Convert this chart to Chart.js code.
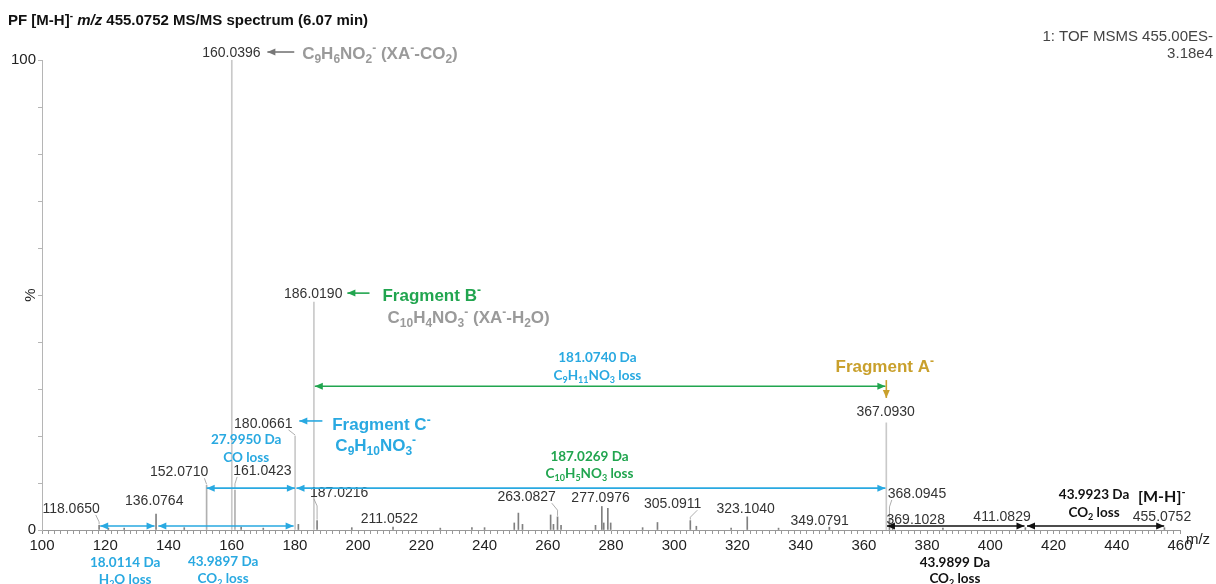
<!DOCTYPE html>
<html>
<head>
<meta charset="utf-8">
<script src="https://cdn.jsdelivr.net/npm/chart.js@4.4.1/dist/chart.umd.min.js"></script>
<style>
  html, body { margin: 0; padding: 0; background: #fff; }
  #wrap { width: 1216px; height: 584px; }
</style>
</head>
<body>
<div id="wrap"><canvas id="spec" width="1216" height="584"></canvas></div>
<script>
// peaks of the spectrum (m/z, relative intensity %)
const peakMz = [118.0650, 121.0, 126.0, 136.0764, 145.0, 152.0710, 160.0396, 161.0423, 163.0,
  170.0, 180.0661, 181.1, 186.0190, 187.0216, 198.0, 211.0522, 226.0, 236.0, 240.0,
  249.4, 250.7, 252.0, 260.9, 261.8, 263.0827, 264.2, 275.1, 277.0976, 277.7, 279.0, 279.9,
  290.0, 294.7, 305.0911, 307.0, 318.0, 323.1040, 333.0, 349.0791, 367.0930, 368.0945,
  369.1028, 385.0, 411.0829, 455.0752]
const peakInt = [1.0, 0.4, 0.4, 3.4, 0.5, 9.5, 100, 8.5, 0.6,
  0.4, 20, 1.2, 48.5, 2.0, 0.5, 0.6, 0.4, 0.5, 0.5,
  1.5, 3.6, 1.2, 3.2, 1.2, 2.8, 1.0, 1.0, 5.0, 1.5, 4.6, 1.5,
  0.5, 1.6, 2.0, 0.8, 0.4, 2.8, 0.4, 0.6, 22.8, 2.5,
  1.0, 0.4, 0.5, 0.5]
const labelledPeaks = ['118.0650', '136.0764', '152.0710', '160.0396', '161.0423', '180.0661',
  '186.0190', '187.0216', '211.0522', '263.0827', '277.0976', '305.0911', '323.1040',
  '349.0791', '367.0930', '368.0945', '369.1028', '411.0829', '455.0752']
const yTickLabels = [0, 100]

const SANS = '"Liberation Sans", Arial, sans-serif'
const CAL = 'Lato, "Open Sans", sans-serif'
const BLUE = '#29a9e1', GREEN = '#21a54f', GOLD = '#c9a02c', GREYF = '#9a9a9a', BLACK = '#111'

// where each peak label sits (m/z, %), and whether it needs a leader line
const labelAt = {
  '118.0650': [109.2, 4.7, 1], '136.0764': [135.5, 6.4, 0], '152.0710': [143.4, 12.5, 1],
  '160.0396': [159.9, 101.7, 0], '161.0423': [169.7, 12.8, 1], '180.0661': [170.0, 22.8, 1],
  '186.0190': [185.8, 50.4, 0], '187.0216': [194.0, 8.1, 1], '211.0522': [209.9, 2.6, 0],
  '263.0827': [253.3, 7.2, 1], '277.0976': [276.7, 7.0, 0], '305.0911': [299.5, 5.7, 1],
  '323.1040': [322.6, 4.7, 0], '349.0791': [346.0, 2.1, 0], '367.0930': [366.9, 25.3, 0],
  '368.0945': [376.8, 7.9, 1], '369.1028': [376.4, 2.3, 0], '411.0829': [403.7, 3.0, 0],
  '455.0752': [454.3, 3.0, 0]
}

// free annotation texts: text, m/z, %, colour, size, align, font
const notes = [
  ['C_{9}H_{6}NO_{2}^{-} (XA^{-}-CO_{2})', 182.3, 101.5, GREYF, 17, 'left', SANS],
  ['Fragment B^{-}', 207.7, 50.0, GREEN, 17, 'left', SANS],
  ['C_{10}H_{4}NO_{3}^{-} (XA^{-}-H_{2}O)', 209.3, 45.3, GREYF, 17, 'left', SANS],
  ['181.0740 Da', 275.7, 36.8, BLUE, 13.5, 'center', CAL],
  ['C_{9}H_{11}NO_{3} loss', 275.7, 33.0, BLUE, 13.5, 'center', CAL],
  ['Fragment A^{-}', 366.6, 34.9, GOLD, 17, 'center', SANS],
  ['Fragment C^{-}', 191.8, 22.5, BLUE, 17, 'left', SANS],
  ['C_{9}H_{10}NO_{3}^{-}', 192.8, 18.1, BLUE, 17, 'left', SANS],
  ['27.9950 Da', 164.6, 19.4, BLUE, 13.5, 'center', CAL],
  ['CO loss', 164.6, 15.5, BLUE, 13.5, 'center', CAL],
  ['187.0269 Da', 273.2, 15.7, GREEN, 13.5, 'center', CAL],
  ['C_{10}H_{5}NO_{3} loss', 273.2, 12.1, GREEN, 13.5, 'center', CAL],
  ['18.0114 Da', 126.3, -6.8, BLUE, 13.5, 'center', CAL],
  ['H_{2}O loss', 126.3, -10.4, BLUE, 13.5, 'center', CAL],
  ['43.9897 Da', 157.3, -6.6, BLUE, 13.5, 'center', CAL],
  ['CO_{2} loss', 157.3, -10.2, BLUE, 13.5, 'center', CAL],
  ['43.9923 Da', 432.8, 7.7, BLACK, 13.5, 'center', CAL],
  ['CO_{2} loss', 432.8, 3.8, BLACK, 13.5, 'center', CAL],
  ['[M-H]^{-}', 446.7, 7.2, BLACK, 16, 'left', CAL],
  ['43.9899 Da', 388.8, -6.8, BLACK, 13.5, 'center', CAL],
  ['CO_{2} loss', 388.8, -10.2, BLACK, 13.5, 'center', CAL]
]

// arrows: from (m/z, %) to (m/z, %), colour, double headed
const arrows = [
  [179.8, 101.7, 171.3, 101.7, '#777', false],
  [203.6, 50.4, 196.6, 50.4, GREEN, false],
  [188.7, 23.2, 181.4, 23.2, BLUE, false],
  [367.093, 31.9, 367.093, 28.1, GOLD, false],
  [186.3, 30.6, 366.8, 30.6, GREEN, true],
  [152.1, 8.9, 180.0, 8.9, BLUE, true],
  [180.5, 8.9, 366.8, 8.9, BLUE, true],
  [118.4, 0.85, 135.6, 0.85, BLUE, true],
  [136.8, 0.85, 179.6, 0.85, BLUE, true],
  [367.3, 0.85, 410.8, 0.85, BLACK, true],
  [411.6, 0.85, 455.0, 0.85, BLACK, true]
]

function rich(ctx, str, x, y, size, color, align, family, weight) {
  const parts = []
  const re = /([_^*])\{([^}]*)\}|([^_^*]+)/g
  let m
  while ((m = re.exec(str))) parts.push(m[3] != null ? { t: m[3], k: '' } : { t: m[2], k: m[1] })
  const fontOf = p => (p.k === '*' ? 'italic ' : '') + (weight || 'bold') + ' ' +
    (p.k === '_' || p.k === '^' ? Math.round(size * 0.68) : size) + 'px ' + family
  let w = 0
  parts.forEach(p => { ctx.font = fontOf(p); p.w = ctx.measureText(p.t).width; w += p.w })
  let cx = align === 'center' ? x - w / 2 : align === 'right' ? x - w : x
  ctx.fillStyle = color
  ctx.textAlign = 'left'
  ctx.textBaseline = 'alphabetic'
  parts.forEach(p => {
    ctx.font = fontOf(p)
    const dy = p.k === '_' ? size * 0.22 : p.k === '^' ? -size * 0.4 : 0
    ctx.fillText(p.t, cx, y + size * 0.36 + dy)
    cx += p.w
  })
  return w
}

function head(ctx, x, y, a) {
  const L = 8, W = 3.5
  ctx.beginPath()
  ctx.moveTo(x, y)
  ctx.lineTo(x - L * Math.cos(a) + W * Math.sin(a), y - L * Math.sin(a) - W * Math.cos(a))
  ctx.lineTo(x - L * Math.cos(a) - W * Math.sin(a), y - L * Math.sin(a) + W * Math.cos(a))
  ctx.closePath()
  ctx.fill()
}

const annot = {
  id: 'annot',
  afterDraw(chart) {
    const { ctx } = chart
    const xs = chart.scales.x, ys = chart.scales.y
    const X = v => xs.getPixelForValue(v), Y = v => ys.getPixelForValue(v)
    const bars = chart.getDatasetMeta(0).data
    ctx.save()

    // title and instrument info
    rich(ctx, 'PF [M-H]^{-} *{m/z} 455.0752 MS/MS spectrum (6.07 min)', 8, 20, 15, '#111', 'left', SANS)
    rich(ctx, '1: TOF MSMS 455.00ES-', 1213, 36, 15, '#444', 'right', SANS, 'normal')
    rich(ctx, '3.18e4', 1213, 53, 15, '#444', 'right', SANS, 'normal')
    rich(ctx, 'm/z', chart.chartArea.right + 18, xs.top + 9, 15, '#222', 'center', SANS, 'normal')
    ctx.save()
    ctx.translate(30, Y(50))
    ctx.rotate(-Math.PI / 2)
    rich(ctx, '%', 0, 0, 15, '#222', 'center', SANS, 'normal')
    ctx.restore()

    // peak labels with leader lines
    labelledPeaks.forEach(t => {
      const i = peakMz.findIndex(v => v.toFixed(4) === t)
      const [lm, lp, lead] = labelAt[t]
      const lx = X(lm), ly = Y(lp)
      const w = rich(ctx, t, lx, ly, 14, '#333', 'center', SANS, 'normal')
      if (lead && i >= 0) {
        const px = bars[i].x, py = bars[i].y
        const sx = px > lx ? lx + w / 2 - 4 : lx - w / 2 + 4
        ctx.strokeStyle = '#999'
        ctx.lineWidth = 0.8
        ctx.beginPath()
        ctx.moveTo(sx, ly + 7)
        ctx.lineTo(px, Math.min(py - 1, ly + 14))
        ctx.lineTo(px, py - 1)
        ctx.stroke()
      }
    })

    notes.forEach(([t, m, p, c, s, a, f]) => rich(ctx, t, X(m), Y(p), s, c, a, f))

    arrows.forEach(([m1, p1, m2, p2, c, both]) => {
      const x1 = X(m1), y1 = Y(p1), x2 = X(m2), y2 = Y(p2)
      ctx.strokeStyle = c
      ctx.fillStyle = c
      ctx.lineWidth = 1.6
      ctx.beginPath()
      ctx.moveTo(x1, y1)
      ctx.lineTo(x2, y2)
      ctx.stroke()
      head(ctx, x2, y2, Math.atan2(y2 - y1, x2 - x1))
      if (both) head(ctx, x1, y1, Math.atan2(y1 - y2, x1 - x2))
    })
    ctx.restore()
  }
}

const canvas = document.getElementById('spec')
new Chart(canvas, {
  type: 'bar',
  data: {
    datasets: [{
      data: peakMz.map((m, i) => ({ x: m, y: peakInt[i] })),
      backgroundColor: peakInt.map(v => v > 15 ? '#c9c9c9' : v > 5 ? '#b0b0b0' : '#808080'),
      borderWidth: 0,
      barThickness: 1,
      grouped: false
    }]
  },
  options: {
    responsive: false,
    animation: false,
    layout: { padding: { top: 60, right: 36, left: 0, bottom: 0 } },
    plugins: { legend: { display: false }, tooltip: { enabled: false } },
    scales: {
      x: {
        type: 'linear',
        min: 100,
        max: 460,
        offset: false,
        grid: { offset: false, drawOnChartArea: false, tickLength: 4, color: '#999' },
        border: { color: '#999' },
        ticks: {
          stepSize: 2,
          autoSkip: false,
          maxRotation: 0,
          padding: 3,
          color: '#222',
          font: { size: 15, family: SANS },
          callback: v => v % 20 === 0 ? String(v) : ''
        },
        afterFit: s => { s.height = 54 }
      },
      y: {
        min: 0,
        max: 100,
        grid: { drawOnChartArea: false, tickLength: 4, color: '#b5b5b5' },
        border: { color: '#b5b5b5' },
        ticks: {
          stepSize: 10,
          padding: 2,
          color: '#222',
          font: { size: 15, family: SANS },
          callback: v => yTickLabels.includes(v) ? String(v) : ''
        },
        afterFit: s => { s.width = 42 }
      }
    }
  },
  plugins: [annot]
})
</script>
</body>
</html>
